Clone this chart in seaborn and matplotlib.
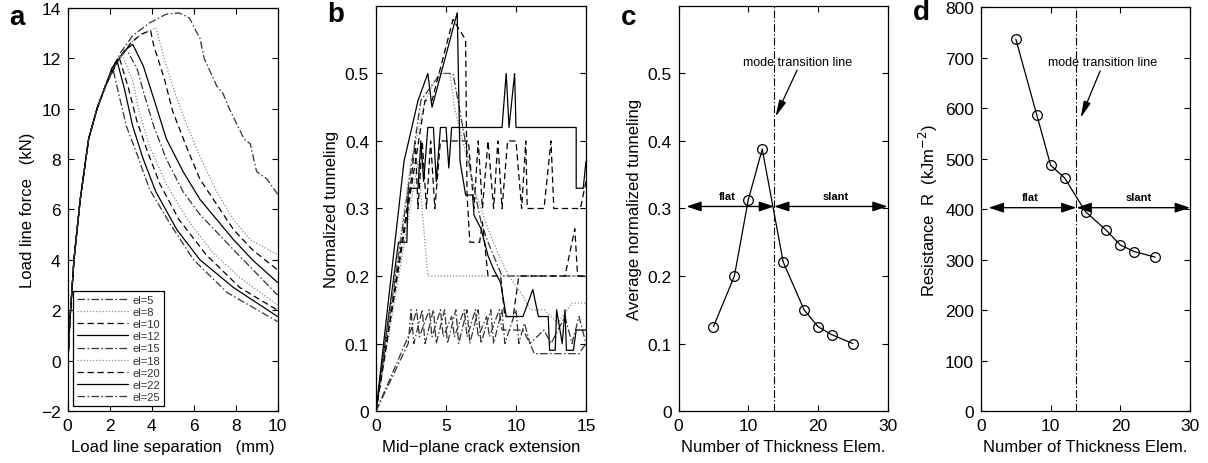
import matplotlib
matplotlib.use("Agg")
import matplotlib.pyplot as plt
import seaborn as sns

# ---- panel a: load line force vs separation ----
el_labels = ["el=5", "el=8", "el=10", "el=12", "el=15", "el=18", "el=20", "el=22", "el=25"]

# shared elastic rise, then each mesh goes its own way
rise_x = [0.0, 0.1, 0.3, 0.6, 1.0, 1.4, 1.8]
rise_y = [-0.3, 1.5, 4.0, 6.4, 8.8, 10.0, 10.9]

a_x_el5 = [2.5, 3.1, 3.9, 4.7, 5.3, 5.8, 6.1, 6.3, 6.5, 7.1, 7.4, 7.7, 8.4, 8.7, 9.0, 9.5, 10.0]
a_y_el5 = [12.2, 12.9, 13.4, 13.75, 13.8, 13.6, 13.1, 12.8, 12.0, 10.9, 10.6, 10.0, 8.8, 8.6, 7.5, 7.2, 6.6]
a_x_el8 = [2.4, 3.0, 3.6, 4.2, 4.7, 5.2, 5.7, 6.3, 7.1, 7.9, 8.7, 10.0]
a_y_el8 = [11.9, 12.6, 13.0, 13.2, 11.7, 10.4, 9.3, 8.1, 6.7, 5.6, 4.8, 4.2]
a_x_el10 = [2.4, 3.0, 3.5, 3.95, 4.1, 4.6, 5.0, 5.7, 6.3, 7.1, 7.9, 8.8, 10.0]
a_y_el10 = [11.9, 12.6, 12.95, 13.1, 12.5, 11.2, 9.9, 8.4, 7.2, 6.2, 5.2, 4.4, 3.6]
a_x_el12 = [2.3, 2.7, 3.1, 3.6, 4.1, 4.7, 5.5, 6.3, 7.1, 7.9, 8.8, 10.0]
a_y_el12 = [11.8, 12.3, 12.55, 11.7, 10.4, 8.8, 7.5, 6.4, 5.6, 4.8, 4.0, 3.1]
a_x_el15 = [2.3, 2.8, 3.3, 3.6, 4.1, 4.7, 5.5, 6.3, 7.9, 10.0]
a_y_el15 = [11.8, 12.35, 11.6, 10.7, 9.3, 8.0, 6.7, 5.8, 4.4, 2.6]
a_x_el18 = [2.2, 2.6, 3.1, 3.4, 3.9, 4.7, 5.7, 6.9, 8.2, 10.0]
a_y_el18 = [11.7, 12.15, 11.1, 9.9, 8.5, 7.0, 5.6, 4.3, 3.3, 2.2]
a_x_el20 = [2.2, 2.45, 2.9, 3.3, 3.8, 4.4, 5.3, 6.6, 8.2, 10.0]
a_y_el20 = [11.75, 12.05, 10.8, 9.5, 8.3, 7.0, 5.6, 4.2, 2.9, 2.0]
a_x_el22 = [2.1, 2.35, 2.7, 3.1, 3.6, 4.2, 5.2, 6.3, 7.9, 10.0]
a_y_el22 = [11.6, 11.9, 10.8, 9.3, 8.0, 6.7, 5.2, 4.0, 2.9, 1.75]
a_x_el25 = [2.15, 2.4, 2.8, 3.3, 3.9, 4.9, 6.0, 7.6, 10.0]
a_y_el25 = [11.6, 10.7, 9.3, 8.2, 6.8, 5.4, 4.0, 2.7, 1.55]

# ---- panel b: normalized tunneling vs mid-plane crack extension ----
b_x_el5 = [0, 2.3, 2.5, 2.7, 3.3, 3.5, 4.1, 4.3, 4.9, 5.1, 5.7, 5.9, 6.5, 6.7, 7.3, 7.5, 8.2, 8.4, 9.0, 9.2, 10.0, 10.2, 10.6, 11.0, 12.0, 12.5, 13.5, 14.0, 14.5, 15]
b_y_el5 = [0, 0.10, 0.15, 0.10, 0.15, 0.10, 0.15, 0.10, 0.15, 0.10, 0.15, 0.10, 0.15, 0.10, 0.15, 0.10, 0.15, 0.10, 0.15, 0.10, 0.15, 0.10, 0.13, 0.10, 0.12, 0.10, 0.14, 0.10, 0.14, 0.10]
b_x_el8 = [0, 3.0, 3.7, 15]
b_y_el8 = [0, 0.37, 0.20, 0.20]
b_x_el10 = [0, 2.5, 2.8, 3.0, 3.3, 3.6, 3.9, 4.2, 4.6, 6.6, 7.0, 7.3, 7.6, 8.0, 8.4, 8.7, 9.0, 9.4, 10.0, 10.4, 10.7, 10.8, 12.0, 12.5, 12.7, 14.6, 15]
b_y_el10 = [0, 0.34, 0.40, 0.30, 0.40, 0.30, 0.40, 0.30, 0.40, 0.40, 0.30, 0.40, 0.30, 0.40, 0.30, 0.40, 0.30, 0.40, 0.40, 0.30, 0.40, 0.30, 0.30, 0.40, 0.30, 0.30, 0.34]
b_x_el12 = [0, 1.6, 2.2, 2.3, 3.0, 3.2, 3.4, 3.7, 4.1, 4.3, 4.6, 5.0, 5.2, 5.4, 9.0, 9.3, 9.5, 9.9, 10.0, 14.3, 14.3, 14.8, 15]
b_y_el12 = [0, 0.25, 0.25, 0.33, 0.33, 0.40, 0.34, 0.42, 0.42, 0.34, 0.42, 0.42, 0.36, 0.42, 0.42, 0.50, 0.42, 0.50, 0.42, 0.42, 0.33, 0.33, 0.37]
b_x_el15 = [0, 3.2, 4.6, 5.5, 6.2, 6.8, 7.5, 8.0, 8.6, 9.0, 15]
b_y_el15 = [0, 0.46, 0.50, 0.50, 0.42, 0.35, 0.28, 0.25, 0.22, 0.20, 0.20]
b_x_el18 = [0, 2.5, 3.5, 4.5, 5.3, 5.6, 6.2, 7.0, 8.0, 9.0, 9.5, 10.5, 11.0, 12.0, 13.0, 14.0, 15]
b_y_el18 = [0, 0.37, 0.46, 0.50, 0.50, 0.45, 0.40, 0.33, 0.27, 0.22, 0.20, 0.17, 0.15, 0.15, 0.13, 0.16, 0.16]
b_x_el20 = [0, 3.5, 4.0, 5.5, 6.4, 6.5, 6.7, 7.4, 7.6, 8.0, 8.9, 9.2, 9.8, 10.2, 13.5, 14.2, 14.4, 15]
b_y_el20 = [0, 0.46, 0.46, 0.58, 0.55, 0.32, 0.25, 0.25, 0.28, 0.20, 0.20, 0.14, 0.14, 0.20, 0.20, 0.27, 0.20, 0.20]
b_x_el22 = [0, 2.0, 3.0, 3.7, 4.0, 5.8, 6.0, 6.4, 6.9, 7.0, 7.5, 8.0, 8.4, 8.9, 9.3, 9.5, 10.5, 11.2, 11.6, 12.3, 12.4, 12.8, 12.9, 13.3, 13.5, 13.6, 14.1, 14.3, 15]
b_y_el22 = [0, 0.37, 0.46, 0.50, 0.45, 0.59, 0.37, 0.32, 0.32, 0.29, 0.27, 0.23, 0.21, 0.19, 0.14, 0.14, 0.14, 0.18, 0.14, 0.14, 0.09, 0.09, 0.15, 0.10, 0.15, 0.09, 0.09, 0.12, 0.12]
b_x_el25 = [0, 2.5, 2.9, 3.1, 3.8, 4.0, 4.6, 4.8, 5.4, 5.6, 6.3, 6.5, 7.1, 7.3, 7.9, 8.1, 8.8, 9.0, 10.5, 11.0, 11.3, 14.5, 15]
b_y_el25 = [0, 0.12, 0.15, 0.11, 0.15, 0.11, 0.15, 0.11, 0.14, 0.11, 0.15, 0.11, 0.15, 0.11, 0.14, 0.11, 0.15, 0.12, 0.12, 0.10, 0.085, 0.085, 0.10]

# ---- panels c and d: averages vs number of thickness elements ----
n_elem = [5, 8, 10, 12, 15, 18, 20, 22, 25]
avg_tunneling = [0.125, 0.200, 0.313, 0.388, 0.221, 0.150, 0.125, 0.113, 0.100]
resistance = [737, 587, 487, 462, 395, 358, 329, 316, 305]
transition_elem = 13.7

styles = {"-.": ((0, (6, 2, 1.2, 2)), "#333333"),
          ":": ((0, (1, 1.5)), "#8a8a8a"),
          "--": ((0, (5, 3)), "black"),
          "-": ("-", "black")}
ls_cycle = ["-.", ":", "--", "-", "-.", ":", "--", "-", "-."]

sns.set_style("ticks")
plt.rcParams["font.family"] = ["Liberation Sans", "DejaVu Sans"]
plt.rcParams["axes.linewidth"] = 0.9
for k in ["text.color", "axes.labelcolor", "xtick.color", "ytick.color", "axes.edgecolor"]:
    plt.rcParams[k] = "black"

fig = plt.figure(figsize=(12.08, 4.64), dpi=100)
ax_a = fig.add_axes([0.056, 0.112, 0.1738, 0.869])
ax_b = fig.add_axes([0.3113, 0.112, 0.1738, 0.873])
ax_c = fig.add_axes([0.5618, 0.112, 0.1730, 0.873])
ax_d = fig.add_axes([0.8121, 0.112, 0.1730, 0.870])

# panel a
a_tails = [(a_x_el5, a_y_el5), (a_x_el8, a_y_el8), (a_x_el10, a_y_el10), (a_x_el12, a_y_el12),
           (a_x_el15, a_y_el15), (a_x_el18, a_y_el18), (a_x_el20, a_y_el20), (a_x_el22, a_y_el22),
           (a_x_el25, a_y_el25)]
for (tx, ty), lab, key in zip(a_tails, el_labels, ls_cycle):
    ls, col = styles[key]
    sns.lineplot(x=rise_x + tx, y=rise_y + ty, ax=ax_a, color=col, linestyle=ls, lw=0.9,
                 sort=False, estimator=None, label=lab)
ax_a.set_xlim(0, 10)
ax_a.set_ylim(-2, 14)
ax_a.set_xticks(range(0, 11, 2))
ax_a.set_yticks(range(-2, 15, 2))
ax_a.set_yticklabels(["\u22122"] + [str(v) for v in range(0, 15, 2)])
ax_a.set_xlabel("Load line separation   (mm)", fontsize=12)
ax_a.set_ylabel("Load line force   (kN)", fontsize=12)
leg = ax_a.legend(loc="lower left", bbox_to_anchor=(0.025, 0.012), borderaxespad=0, fontsize=8,
                  handlelength=4.6, labelspacing=0.2, handletextpad=0.4, borderpad=0.35,
                  fancybox=False, framealpha=1, edgecolor="black")
leg.get_frame().set_linewidth(0.9)
for t in leg.get_texts():
    t.set_color("#333333")

# panel b
b_series = [(b_x_el5, b_y_el5), (b_x_el8, b_y_el8), (b_x_el10, b_y_el10), (b_x_el12, b_y_el12),
            (b_x_el15, b_y_el15), (b_x_el18, b_y_el18), (b_x_el20, b_y_el20), (b_x_el22, b_y_el22),
            (b_x_el25, b_y_el25)]
for (bx, by), key in zip(b_series, ls_cycle):
    ls, col = styles[key]
    sns.lineplot(x=bx, y=by, ax=ax_b, color=col, linestyle=ls, lw=0.9, sort=False, estimator=None)
ax_b.set_xlim(0, 15)
ax_b.set_ylim(0, 0.6)
ax_b.set_xticks([0, 5, 10, 15])
ax_b.set_yticks([0, 0.1, 0.2, 0.3, 0.4, 0.5])
ax_b.set_yticklabels(["0", "0.1", "0.2", "0.3", "0.4", "0.5"])
ax_b.set_xlabel("Mid\u2212plane crack extension", fontsize=12)
ax_b.set_ylabel("Normalized tunneling", fontsize=12)

# panels c and d
for ax, vals, arrow_y, txt_y, tip, start in [
        (ax_c, avg_tunneling, 0.303, 0.318, (13.9, 0.436), (17.0, 0.505)),
        (ax_d, resistance, 403, 425, (14.3, 581), (17.1, 674))]:
    sns.lineplot(x=n_elem, y=vals, ax=ax, color="black", lw=0.9, marker="o", markersize=7,
                 markerfacecolor="none", markeredgecolor="black", markeredgewidth=0.9)
    ax.axvline(transition_elem, color="black", lw=0.8, linestyle=(0, (7, 2, 1.2, 2)))
    for end in (1.1, 30):
        ax.annotate("", xy=(end, arrow_y), xytext=(transition_elem, arrow_y), annotation_clip=False,
                    arrowprops=dict(arrowstyle="<|-|>,head_length=0.9,head_width=0.3", color="black",
                                    lw=1, shrinkA=0, shrinkB=0))
    ax.text(7.0, txt_y, "flat", ha="center", va="center", fontsize=8, fontweight="bold")
    ax.text(22.6, txt_y, "slant", ha="center", va="center", fontsize=8, fontweight="bold")
    ax.annotate("", xy=tip, xytext=start,
                arrowprops=dict(arrowstyle="-|>,head_length=1.0,head_width=0.22", color="black",
                                lw=0.9, shrinkA=0, shrinkB=0))
    ax.set_xlim(0, 30)
    ax.set_xticks([0, 10, 20, 30])
    ax.set_xlabel("Number of Thickness Elem.", fontsize=12)

ax_c.text(17.1, 0.517, "mode transition line", ha="center", va="center", fontsize=9)
ax_c.set_ylim(0, 0.6)
ax_c.set_yticks([0, 0.1, 0.2, 0.3, 0.4, 0.5])
ax_c.set_yticklabels(["0", "0.1", "0.2", "0.3", "0.4", "0.5"])
ax_c.set_ylabel("Average normalized tunneling", fontsize=12)

ax_d.text(17.5, 691, "mode transition line", ha="center", va="center", fontsize=9)
ax_d.set_ylim(0, 800)
ax_d.set_yticks(range(0, 801, 100))
ax_d.set_ylabel("Resistance  R  (kJm$^{-2}$)", fontsize=12)

for ax in [ax_a, ax_b, ax_c, ax_d]:
    ax.tick_params(direction="in", top=True, right=True, length=4, width=0.8,
                   labelsize=12.5, pad=5)
    for sp in ax.spines.values():
        sp.set_visible(True)
        sp.set_color("black")

for xp, yp, letter in [(0.008, 0.947, "a"), (0.271, 0.953, "b"), (0.514, 0.947, "c"), (0.756, 0.957, "d")]:
    fig.text(xp, yp, letter, fontsize=20, fontweight="bold", va="baseline")

fig.savefig("out.png", dpi=100)
